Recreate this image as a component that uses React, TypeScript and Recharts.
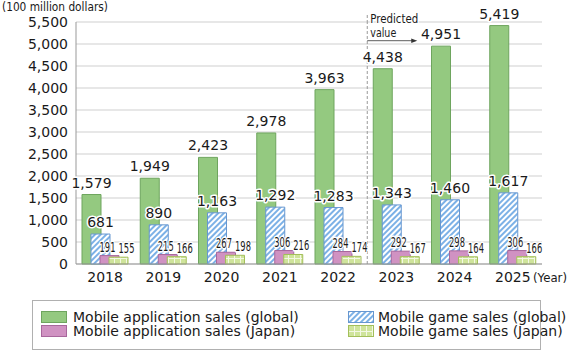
import React from "react";
import { BarChart, Bar, XAxis, YAxis, CartesianGrid, ReferenceLine } from "recharts";

// values in 100 million dollars
const years = ["2018", "2019", "2020", "2021", "2022", "2023", "2024", "2025"];
const appGlobal = [1579, 1949, 2423, 2978, 3963, 4438, 4951, 5419];
const gameGlobal = [681, 890, 1163, 1292, 1283, 1343, 1460, 1617];
const appJapan = [191, 215, 267, 306, 284, 292, 298, 306];
const gameJapan = [155, 166, 198, 216, 174, 167, 164, 166];
const yTicks = [0, 500, 1000, 1500, 2000, 2500, 3000, 3500, 4000, 4500, 5000, 5500];
const forecastStart = "2023";

const seriesNames = {
  appGlobal: "Mobile application sales (global)",
  gameGlobal: "Mobile game sales (global)",
  appJapan: "Mobile application sales (Japan)",
  gameJapan: "Mobile game sales (Japan)",
};

const data = years.map((year, i) => ({
  year,
  appGlobal: appGlobal[i],
  gameGlobal: gameGlobal[i],
  appJapan: appJapan[i],
  gameJapan: gameJapan[i],
}));

const FONT = '"DejaVu Sans", Verdana, sans-serif';
const TEXT = "#1a1a1a";
const fmt = (v: number) => v.toLocaleString("en-US");

const fills = {
  appGlobal: { fill: "#94c980", stroke: "#6ea55e" },
  gameGlobal: { fill: "url(#hatchBlue)", stroke: "#6797d0" },
  appJapan: { fill: "#d092c2", stroke: "#a8679c" },
  gameJapan: { fill: "url(#gridLime)", stroke: "#a3bf5a" },
};

const halo: any = {
  stroke: "#fff",
  strokeWidth: 3,
  paintOrder: "stroke",
  strokeLinejoin: "round",
};

// value label above a bar; small ones are squeezed like the original
const makeLabel = (dx: number, gap: number, squeeze?: number) => (props: any) => {
  const { x, y, width, value } = props;
  const text = fmt(Number(value));
  const extra = squeeze ? { textLength: text.length * squeeze, lengthAdjust: "spacingAndGlyphs" } : {};
  return (
    <text
      x={Number(x) + Number(width) / 2 + dx}
      y={Number(y) - gap}
      textAnchor="middle"
      fontSize={14}
      fontFamily={FONT}
      fill={TEXT}
      {...halo}
      {...extra}
    >
      {text}
    </text>
  );
};

const PredictedLabel = (props: any) => {
  const vb = props.viewBox || {};
  const x = Number(vb.x);
  const top = Number(vb.y);
  return (
    <g>
      <line x1={x} x2={x} y1={top - 7} y2={top} stroke="#999" strokeDasharray="3 2" />
      <text x={x + 3} y={top + 0.7} fontSize={13} fontFamily={FONT} fill={TEXT} textLength={48} lengthAdjust="spacingAndGlyphs" {...halo}>
        Predicted
      </text>
      <text x={x + 3} y={top + 15} fontSize={13} fontFamily={FONT} fill={TEXT} textLength={26} lengthAdjust="spacingAndGlyphs" {...halo}>
        value
      </text>
      <line x1={x} x2={x + 45} y1={top + 18.7} y2={top + 18.7} stroke="#333" strokeWidth={0.8} />
      <path d={`M${x + 50},${top + 18.7} l-6,-2.2 v4.4 z`} fill="#333" />
    </g>
  );
};

const Swatch = ({ k }: { k: keyof typeof fills }) => (
  <svg width={26} height={12} style={{ display: "block" }}>
    <rect x={0.5} y={0.5} width={25} height={11} fill={fills[k].fill} stroke={fills[k].stroke} />
  </svg>
);

const legendRows: [keyof typeof fills, keyof typeof fills][] = [
  ["appGlobal", "gameGlobal"],
  ["appJapan", "gameJapan"],
];

export default function App() {
  return (
    <div style={{ position: "fixed", left: 0, top: 0, width: 569, height: 351, background: "#fff", fontFamily: FONT }}>
      <svg width={0} height={0} style={{ position: "absolute" }}>
        <defs>
          <pattern id="hatchBlue" patternUnits="userSpaceOnUse" width={4} height={4} patternTransform="rotate(45)">
            <rect width={4} height={4} fill="#fff" />
            <rect width={2} height={4} fill="#7cb1e6" />
          </pattern>
          <pattern id="gridLime" patternUnits="userSpaceOnUse" width={6} height={6}>
            <rect width={6} height={6} fill="#cfe49b" />
            <path d="M0,0.5H6M0.5,0V6" stroke="#f3f8e4" strokeWidth={1} />
          </pattern>
        </defs>
      </svg>

      <BarChart
        width={569}
        height={351}
        data={data}
        margin={{ top: 22, right: 27, left: 6, bottom: 57 }}
        barSize={19}
        barGap={-10}
      >
        <CartesianGrid vertical={false} stroke="#cfcfcf" />
        <XAxis
          dataKey="year"
          axisLine={{ stroke: "#999" }}
          tickLine={false}
          height={30}
          tick={{ fontSize: 14, fill: TEXT, fontFamily: FONT }}
        />
        <YAxis
          width={70}
          domain={[0, 5500]}
          ticks={yTicks}
          interval={0}
          axisLine={{ stroke: "#999" }}
          tickLine={false}
          tickFormatter={fmt}
          tick={{ fontSize: 14, fill: TEXT, fontFamily: FONT }}
        />
        <ReferenceLine
          x={forecastStart}
          position="start"
          stroke="#999"
          strokeDasharray="3 2"
          label={<PredictedLabel />}
        />
        <Bar dataKey="appGlobal" name={seriesNames.appGlobal} {...fills.appGlobal} isAnimationActive={false} label={makeLabel(0, 7)} />
        <Bar dataKey="gameGlobal" name={seriesNames.gameGlobal} {...fills.gameGlobal} isAnimationActive={false} label={makeLabel(0, 7)} />
        <Bar dataKey="appJapan" name={seriesNames.appJapan} {...fills.appJapan} isAnimationActive={false} label={makeLabel(-2, 4, 5.3)} />
        <Bar dataKey="gameJapan" name={seriesNames.gameJapan} {...fills.gameJapan} isAnimationActive={false} label={makeLabel(8, 4, 5.3)} />
      </BarChart>

      <svg width={569} height={351} style={{ position: "absolute", left: 0, top: 0, pointerEvents: "none" }}>
        <text x={2} y={10.5} fontSize={12.5} fontFamily={FONT} fill={TEXT} textLength={106} lengthAdjust="spacingAndGlyphs">
          (100 million dollars)
        </text>
        <text x={533} y={282} fontSize={12.5} fontFamily={FONT} fill={TEXT} textLength={34} lengthAdjust="spacingAndGlyphs">
          (Year)
        </text>
      </svg>

      <div
        style={{
          position: "absolute",
          left: 32,
          top: 300,
          width: 509,
          height: 50,
          boxSizing: "border-box",
          border: "1px solid #b0b0b0",
        }}
      />
      {legendRows.map((row, r) =>
        row.map((k, c) => (
          <div
            key={k}
            style={{
              position: "absolute",
              left: c === 0 ? 41 : 348,
              top: 310 + r * 14,
              height: 14,
              display: "flex",
              alignItems: "center",
              gap: c === 0 ? 6 : 4,
              fontSize: 14,
              color: TEXT,
              whiteSpace: "nowrap",
            }}
          >
            <Swatch k={k} />
            <span style={{ lineHeight: "14px" }}>{seriesNames[k]}</span>
          </div>
        ))
      )}
    </div>
  );
}
